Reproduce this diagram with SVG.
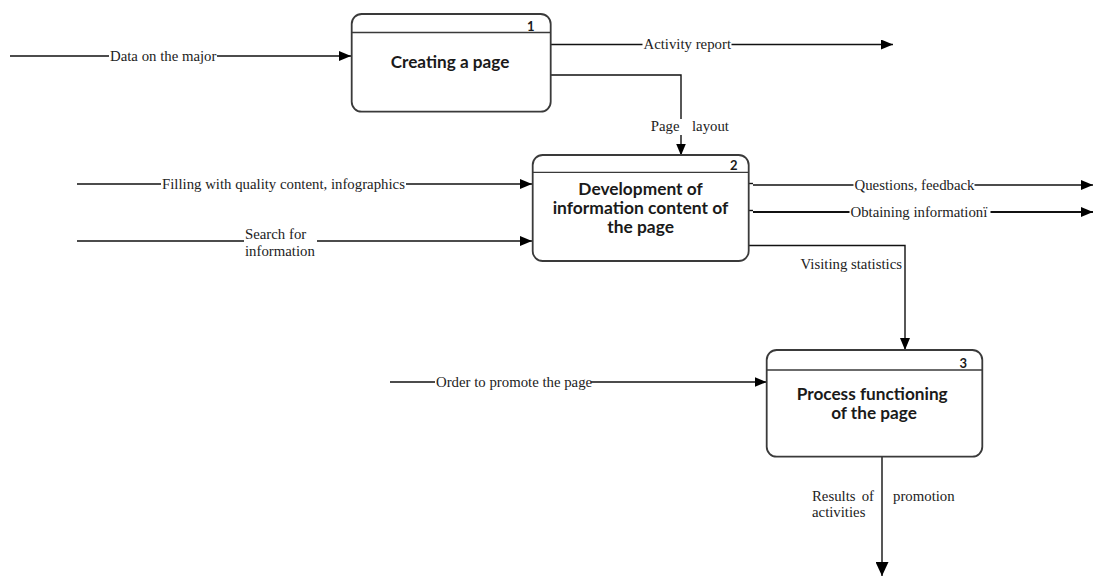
<svg xmlns="http://www.w3.org/2000/svg" width="1093" height="576" viewBox="0 0 1093 576">
<style>
.box{fill:#fff;stroke:#3a3a3a;stroke-width:1.8}
.hdr{fill:none;stroke:#3a3a3a;stroke-width:1.3}
.title{font-family:Lato,"Open Sans",sans-serif;font-weight:700;font-size:17.5px;fill:#1a1a1a;text-anchor:middle}
.num{font-family:Lato,"Open Sans",sans-serif;font-weight:700;font-size:13px;fill:#1a1a1a;text-anchor:end}
.lbl{font-family:"Liberation Serif","Times New Roman",serif;font-size:14.8px;fill:#222}
.ln{fill:none;stroke:#111;stroke-width:1.4}
.bg{fill:#fff}
</style>
<defs>
<marker id="ah" markerUnits="userSpaceOnUse" markerWidth="12" markerHeight="10" refX="12" refY="5" orient="auto"><path d="M0,0 L12,5 L0,10 z" fill="#000"/></marker>
<marker id="ahL" markerUnits="userSpaceOnUse" markerWidth="14" markerHeight="13" refX="14" refY="6.5" orient="auto"><path d="M0,0 L14,6.5 L0,13 z" fill="#000"/></marker>
</defs>
<g id="connectors">
<path class="ln" d="M10,56 H351" marker-end="url(#ah)"/>
<path class="ln" d="M551,44.5 H893" marker-end="url(#ah)"/>
<path class="ln" d="M551,75 H681 V155.5" marker-end="url(#ah)"/>
<path class="ln" d="M77,184 H532" marker-end="url(#ah)"/>
<path class="ln" d="M77,241 H532" marker-end="url(#ah)"/>
<path class="ln" d="M748,183.5 H753"/>
<path class="ln" d="M753,185 H1093" marker-end="url(#ah)"/>
<path class="ln" d="M748,210.5 H753"/>
<path class="ln" d="M753,212 H1093" marker-end="url(#ah)" style="stroke-width:1.8"/>
<path class="ln" d="M749,245.5 H905 V350" marker-end="url(#ah)"/>
<path class="ln" d="M390,382 H766.5" marker-end="url(#ah)"/>
<path class="ln" d="M882,457 V576" marker-end="url(#ahL)"/>
<g id="labels">
<rect class="bg" x="109" y="50" width="108" height="13"/>
<text class="lbl" x="110" y="60.5">Data on the major</text>
<rect class="bg" x="642.5" y="38" width="89" height="13"/>
<text class="lbl" x="643.5" y="49">Activity report</text>
<rect class="bg" x="650" y="119" width="80" height="16"/>
<text class="lbl" x="679.5" y="131" text-anchor="end">Page</text>
<text class="lbl" x="692" y="131">layout</text>
<rect class="bg" x="161" y="178" width="245" height="13"/>
<text class="lbl" x="162" y="188.5">Filling with quality content, infographics</text>
<rect class="bg" x="244" y="229" width="73" height="29"/>
<text class="lbl" x="245" y="238.5">Search for</text>
<text class="lbl" x="245" y="255.5">information</text>
<rect class="bg" x="853.5" y="179" width="121" height="13"/>
<text class="lbl" x="854.5" y="189.5">Questions, feedback</text>
<rect class="bg" x="849.5" y="205.5" width="141" height="14"/>
<text class="lbl" x="850.5" y="216.5">Obtaining informationї</text>
<text class="lbl" x="800.5" y="269">Visiting statistics</text>
<rect class="bg" x="435" y="376" width="156" height="13"/>
<text class="lbl" x="436" y="386.5">Order to promote the page</text>
<text class="lbl" x="812" y="500.5">Results</text>
<text class="lbl" x="874" y="500.5" text-anchor="end">of</text>
<text class="lbl" x="893" y="500.5">promotion</text>
<text class="lbl" x="812" y="516.5">activities</text>
</g>
</g>
<g id="node1">
<rect class="box" x="351.7" y="14" width="199" height="97.7" rx="10"/>
<line class="hdr" x1="351.7" y1="32.5" x2="550.7" y2="32.5"/>
<text class="num" x="534.5" y="30.5">1</text>
<text class="title" x="450" y="67.5" textLength="118.7" lengthAdjust="spacingAndGlyphs">Creating a page</text>
</g>
<g id="node2">
<rect class="box" x="532.7" y="155" width="216" height="106" rx="10"/>
<line class="hdr" x1="532.7" y1="172.3" x2="748.7" y2="172.3"/>
<text class="num" x="737.5" y="169.5">2</text>
<text class="title" x="640.5" y="195" textLength="124.3" lengthAdjust="spacingAndGlyphs">Development of</text>
<text class="title" x="640.5" y="214" textLength="175.7" lengthAdjust="spacingAndGlyphs">information content of</text>
<text class="title" x="640.6" y="233" textLength="66.7" lengthAdjust="spacingAndGlyphs">the page</text>
</g>
<g id="node3">
<rect class="box" x="766.7" y="350" width="215.6" height="106.7" rx="10"/>
<line class="hdr" x1="766.7" y1="370" x2="982.3" y2="370"/>
<text class="num" x="967" y="367.7">3</text>
<text class="title" x="872.2" y="400" textLength="151" lengthAdjust="spacingAndGlyphs">Process functioning</text>
<text class="title" x="874" y="419" textLength="85.7" lengthAdjust="spacingAndGlyphs">of the page</text>
</g>
</svg>
